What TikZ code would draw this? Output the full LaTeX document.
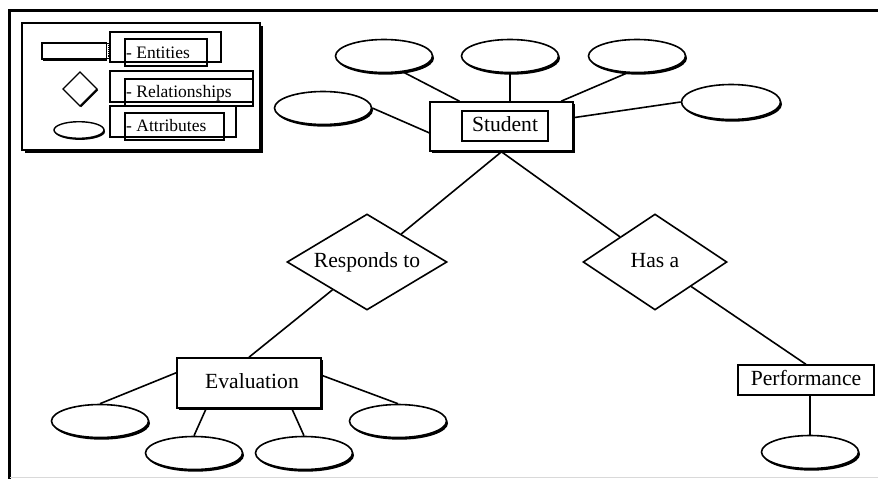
\documentclass[tikz,border=0pt]{standalone}
\usepackage{fontspec}
\setmainfont{Liberation Serif}
\usetikzlibrary{shapes.geometric,shadows,backgrounds}
\newcommand\mainsz{\fontsize{21.6pt}{24pt}\selectfont}
\newcommand\legsz{\fontsize{17.5pt}{20pt}\selectfont}
\begin{document}
\begin{tikzpicture}[x=1pt,y=-1pt,
  conn/.style={line width=1.6pt},
  solidshadow/.style={drop shadow={shadow xshift=#1, shadow yshift=-#1, fill=black, opacity=1}},
  attr/.style={ellipse, draw, line width=1.6pt, fill=white, minimum width=97pt,
    minimum height=33pt, inner sep=0pt,
    drop shadow={shadow xshift=1.5pt, shadow yshift=-2.2pt, fill=black, opacity=1}},
  ent/.style={rectangle, draw, line width=1.6pt, fill=white, inner sep=0pt,
    font=\mainsz, text height=15pt, text depth=4pt},
  entsh/.style={ent, solidshadow=2.4pt},
  rel/.style={diamond, draw, line width=1.6pt, fill=white, inner sep=0pt,
    font=\mainsz, text height=15pt, text depth=5pt},
  legbox/.style={draw, line width=1.3pt},
  leglabel/.style={anchor=base west, inner sep=0pt, font=\legsz}
]
% canvas
\path[use as bounding box] (0,0) rectangle (878,479);

% page frame
\draw[line width=3pt] (9,479) -- (9,10.5) -- (878,10.5);
\draw[gray!30, line width=1pt] (10,477.5) -- (878,477.5);

% ---------- legend ----------
\draw[line width=1.5pt, fill=white, solidshadow=2.5pt] (22,23) rectangle (260,150);
% entity symbol
\draw[line width=1.4pt, fill=white, drop shadow={shadow xshift=0.6pt, shadow yshift=-2pt, fill=black, opacity=1}] (42,43) rectangle (106.5,59);
\draw[line width=0.9pt] (106.5,43.5) rectangle (110,58);
\draw[line width=0.9pt, densely dotted] (108.3,45) -- (108.3,57);
% relationship symbol
\draw[line width=1.4pt, fill=white, drop shadow={shadow xshift=1.2pt, shadow yshift=-1.2pt, fill=black, opacity=1}]
  (80,72) -- (97,89) -- (80,106) -- (63,89) -- cycle;
% attribute symbol
\draw[line width=1.4pt, fill=white, drop shadow={shadow xshift=1pt, shadow yshift=-1.6pt, fill=black, opacity=1}]
  (79,130) ellipse [x radius=25, y radius=8.3];
% label frames
\draw[legbox] (110,32) rectangle (221,62);
\draw[legbox] (125,39) rectangle (207,66);
\draw[legbox, line width=1.8pt] (125,66) -- (207,66);
\draw[legbox] (110,71) rectangle (253,102);
\draw[legbox] (125,79) rectangle (253,106);
\draw[legbox] (110,106) rectangle (236,137);
\draw[legbox] (125,113) rectangle (224,140);
\node[leglabel] (lgent) at (126,58) {- Entities};
\node[leglabel] (lgrel) at (126,97) {- Relationships};
\node[leglabel] (lgatt) at (126,131) {- Attributes};

% ---------- entities ----------
\node[entsh, minimum width=143pt, minimum height=49pt] (stu) at (501.5,126.5) {};
\node[ent, line width=1.3pt, minimum width=86pt, minimum height=30pt] (stulbl) at (505,126) {Student};
\node[entsh, minimum width=144pt, minimum height=50pt] (eval) at (249,383) {\hspace*{6pt}Evaluation};
\node[ent, line width=1.3pt, minimum width=136pt, minimum height=30pt] (perf) at (806,380) {Performance};

% ---------- relationships ----------
\node[rel, aspect=1.667, minimum width=160pt, minimum height=96pt] (resp) at (367,262) {Responds to};
\node[rel, aspect=1.5, minimum width=144pt, minimum height=96pt] (hasa) at (655,262) {Has a};

% ---------- attributes ----------
\node[attr] (sa1) at (384,56) {};
\node[attr] (sa2) at (510,56) {};
\node[attr] (sa3) at (637,56) {};
\node[attr] (sa4) at (323,108) {};
\node[attr, minimum width=99pt, minimum height=35pt] (sa5) at (731,102) {};
\node[attr] (ea1) at (100,421) {};
\node[attr] (ea2) at (194,453) {};
\node[attr] (ea3) at (304,453) {};
\node[attr] (ea4) at (398,421) {};
\node[attr] (pa1) at (810,452) {};

% ---------- connectors (behind the shapes) ----------
\begin{pgfonlayer}{background}
\fill[white] (0,0) rectangle (878,479);
\draw[conn] (sa1.-40) -- (stu.149);
\draw[conn] (sa2.south) -- (sa2.south |- stu.north);
\draw[conn] (sa3.-120) -- (stu.23);
\draw[conn] (sa4.east) -- (stu.185);
\draw[conn] (sa5.west) -- (stu.7);
\draw[conn] (stu.south) -- (resp);
\draw[conn] (stu.south) -- (hasa);
\draw[conn] (resp) -- (eval.north);
\draw[conn] (hasa) -- (perf.north);
\draw[conn] (eval.172) -- (ea1.north);
\draw[conn] (eval.211) -- (ea2.north);
\draw[conn] (eval.-31) -- (ea3.north);
\draw[conn] (eval.6) -- (ea4.north);
\draw[conn] (pa1.north) -- (pa1.north |- perf.south);
\end{pgfonlayer}
\end{tikzpicture}
\end{document}
